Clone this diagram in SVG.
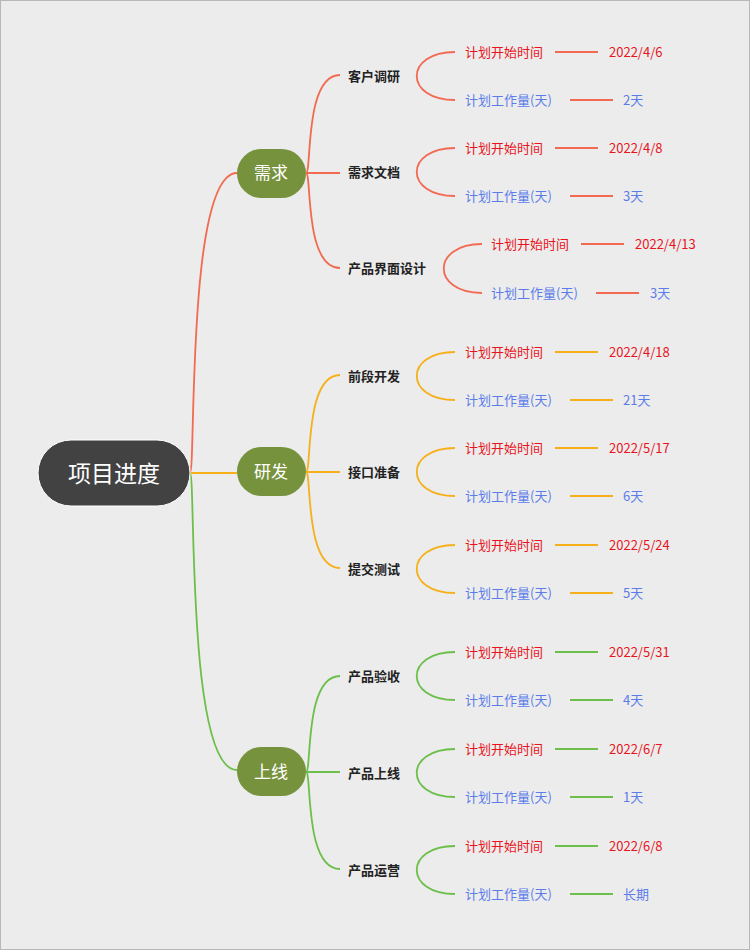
<svg xmlns="http://www.w3.org/2000/svg" width="750" height="950" viewBox="0 0 750 950">
<style>
.c{fill:none;stroke-width:1.8}
.r{stroke:#f26a52}.o{stroke:#f5b01a}.g{stroke:#6cbf4a}
text{font-family:"Noto Sans CJK SC","Liberation Sans",sans-serif;dominant-baseline:central}
.sub{font-size:13px;font-weight:bold;fill:#222}
.lt{font-size:13px;fill:#e8141c}
.lb{font-size:13px;fill:#5b7cea}
.mid{font-size:17px;fill:#fff;text-anchor:middle}
</style>
<rect x="0.5" y="0.5" width="749" height="949" fill="#ececec" stroke="#b8b8b8"/>
<g id="connectors">
<path class="c r" d="M190,473 C196,473 186,173 237,173"/>
<path class="c o" d="M190,473 L237,473"/>
<path class="c g" d="M190,473 C196,473 186,770 237,770"/>
<path class="c r" d="M306,173 C312,173 304,75 340,75 M306,173 L340,173 M306,173 C312,173 304,268 340,268"/>
<path class="c o" d="M306,472 C312,472 304,375 340,375 M306,472 L340,472 M306,472 C312,472 304,568 340,568"/>
<path class="c g" d="M306,772 C312,772 304,676 340,676 M306,772 L340,772 M306,772 C312,772 304,869 340,869"/>
<path class="c r" d="M455,52 C404,52 404,100 455,100 M455,148 C404,148 404,196 455,196 M482,244 C431,244 431,293 482,293"/>
<path class="c o" d="M455,352 C404,352 404,400 455,400 M455,448 C404,448 404,496 455,496 M455,545 C404,545 404,593 455,593"/>
<path class="c g" d="M455,652 C404,652 404,700 455,700 M455,749 C404,749 404,797 455,797 M455,846 C404,846 404,894 455,894"/>
<path class="c r" d="M555,52H598M570,100H613M555,148H598M570,196H613M581,244H624M596,293H639"/>
<path class="c o" d="M555,352H598M570,400H613M555,448H598M570,496H613M555,545H598M570,593H613"/>
<path class="c g" d="M555,652H598M570,700H613M555,749H598M570,797H613M555,846H598M570,894H613"/>
</g>
<g id="root"><rect x="38" y="440" width="152" height="66" rx="33" fill="#424242" stroke="#fff" stroke-width="1"/><text class="mid" x="114" y="472" style="font-size:23px">项目进度</text></g>
<g id="n1"><rect x="237" y="149" width="69" height="49" rx="24.5" fill="#76923c"/><text class="mid" x="271" y="171">需求</text></g>
<g id="n2"><rect x="237" y="447" width="69" height="49" rx="24.5" fill="#76923c"/><text class="mid" x="271" y="470">研发</text></g>
<g id="n3"><rect x="237" y="747" width="69" height="49" rx="24.5" fill="#76923c"/><text class="mid" x="271" y="770">上线</text></g>
<g id="subs">
<text class="sub" x="348" y="75">客户调研</text>
<text class="sub" x="348" y="171">需求文档</text>
<text class="sub" x="348" y="267">产品界面设计</text>
<text class="sub" x="348" y="375">前段开发</text>
<text class="sub" x="348" y="471">接口准备</text>
<text class="sub" x="348" y="568">提交测试</text>
<text class="sub" x="348" y="675">产品验收</text>
<text class="sub" x="348" y="772">产品上线</text>
<text class="sub" x="348" y="869">产品运营</text>
</g>
<g id="leaves">
<text class="lt" x="465" y="51">计划开始时间</text><text class="lt" x="609" y="51">2022/4/6</text>
<text class="lb" x="465" y="99">计划工作量(天)</text><text class="lb" x="623" y="99">2天</text>
<text class="lt" x="465" y="147">计划开始时间</text><text class="lt" x="609" y="147">2022/4/8</text>
<text class="lb" x="465" y="195">计划工作量(天)</text><text class="lb" x="623" y="195">3天</text>
<text class="lt" x="491" y="243">计划开始时间</text><text class="lt" x="635" y="243">2022/4/13</text>
<text class="lb" x="491" y="292">计划工作量(天)</text><text class="lb" x="650" y="292">3天</text>
<text class="lt" x="465" y="351">计划开始时间</text><text class="lt" x="609" y="351">2022/4/18</text>
<text class="lb" x="465" y="399">计划工作量(天)</text><text class="lb" x="623" y="399">21天</text>
<text class="lt" x="465" y="447">计划开始时间</text><text class="lt" x="609" y="447">2022/5/17</text>
<text class="lb" x="465" y="495">计划工作量(天)</text><text class="lb" x="623" y="495">6天</text>
<text class="lt" x="465" y="544">计划开始时间</text><text class="lt" x="609" y="544">2022/5/24</text>
<text class="lb" x="465" y="592">计划工作量(天)</text><text class="lb" x="623" y="592">5天</text>
<text class="lt" x="465" y="651">计划开始时间</text><text class="lt" x="609" y="651">2022/5/31</text>
<text class="lb" x="465" y="699">计划工作量(天)</text><text class="lb" x="623" y="699">4天</text>
<text class="lt" x="465" y="748">计划开始时间</text><text class="lt" x="609" y="748">2022/6/7</text>
<text class="lb" x="465" y="796">计划工作量(天)</text><text class="lb" x="623" y="796">1天</text>
<text class="lt" x="465" y="845">计划开始时间</text><text class="lt" x="609" y="845">2022/6/8</text>
<text class="lb" x="465" y="893">计划工作量(天)</text><text class="lb" x="623" y="893">长期</text>
</g>
</svg>
